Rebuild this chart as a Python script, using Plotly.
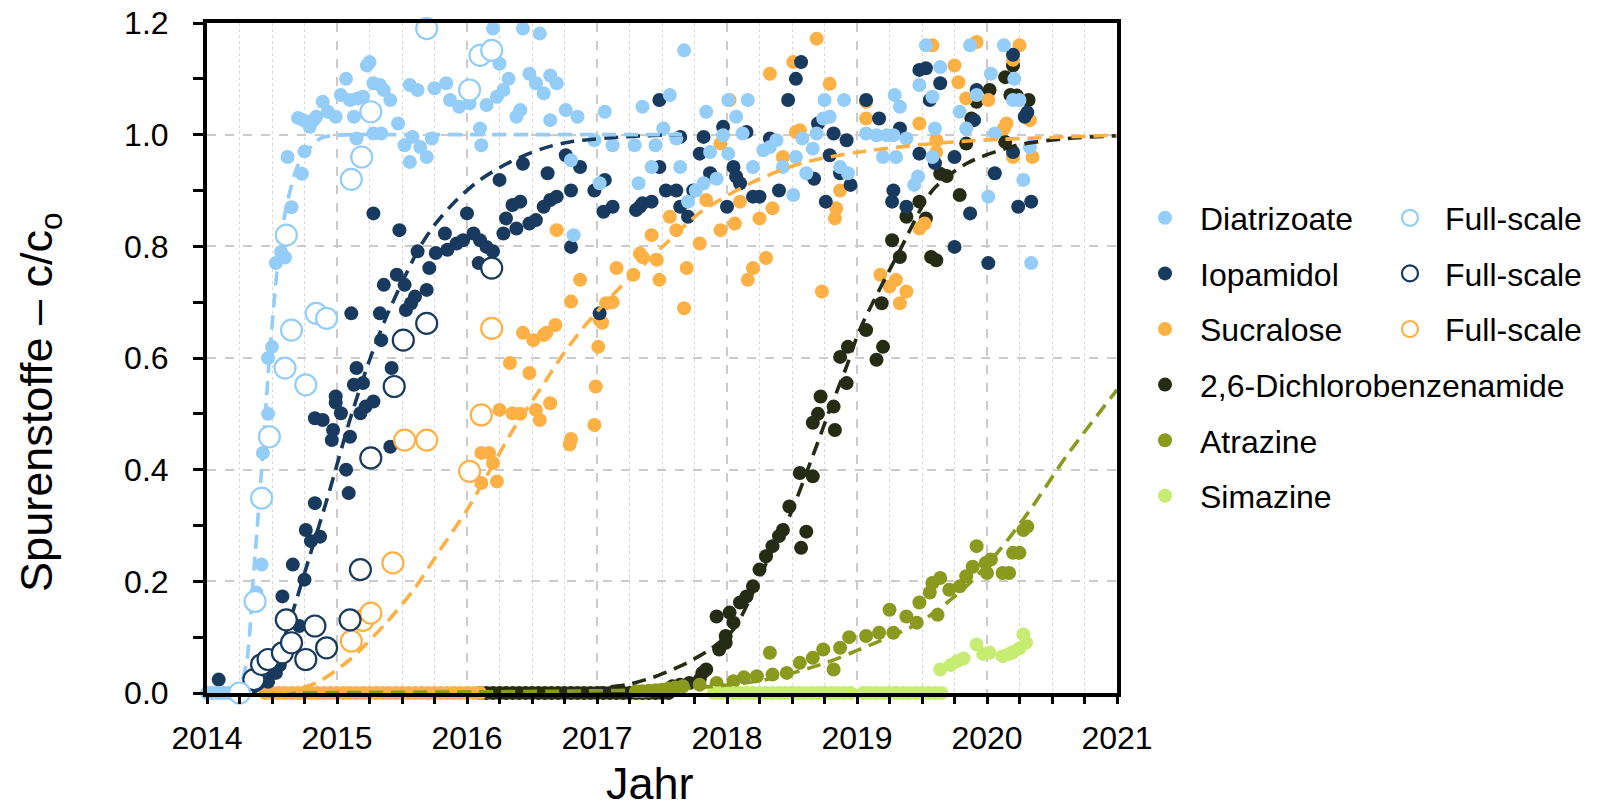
import plotly.graph_objects as go

# ---------------- data ----------------
diat_x = [2014.0, 2014.04, 2014.08, 2014.12, 2014.16, 2014.2, 2014.24, 2014.28,
          2014.38, 2014.42, 2014.43, 2014.47, 2014.47, 2014.50, 2014.53, 2014.57, 2014.60, 2014.65, 2014.62,
          2014.73, 2014.75, 2014.70, 2014.74, 2014.79, 2014.82, 2014.84, 2014.89, 2014.93, 2014.99, 2015.03,
          2015.07, 2015.10, 2015.13, 2015.15, 2015.16, 2015.20, 2015.23, 2015.25, 2015.28, 2015.28, 2015.33,
          2015.34, 2015.36, 2015.41, 2015.47, 2015.52, 2015.56, 2015.56, 2015.58, 2015.62, 2015.64, 2015.69,
          2015.73, 2015.75, 2015.84, 2015.87, 2015.94, 2016.02, 2016.10, 2016.11, 2016.15, 2016.20, 2016.23,
          2016.25, 2016.28, 2016.32, 2016.38, 2016.41, 2016.43, 2016.48, 2016.53, 2016.56, 2016.59, 2016.64,
          2016.64, 2016.69, 2016.76, 2016.80, 2016.82, 2016.85, 2016.98, 2017.02, 2017.06, 2017.12, 2017.29,
          2017.32, 2017.35, 2017.42, 2017.45, 2017.51, 2017.56, 2017.61, 2017.64, 2017.67, 2017.70, 2017.76,
          2017.82, 2017.84, 2017.87, 2017.92, 2017.97, 2018.01, 2018.01, 2018.07, 2018.12, 2018.16, 2018.20,
          2018.28, 2018.33, 2018.38, 2018.43, 2018.51, 2018.53, 2018.58, 2018.61, 2018.66, 2018.69, 2018.74,
          2018.75, 2018.79, 2018.87, 2018.90, 2018.93, 2019.07, 2019.15, 2019.20, 2019.23, 2019.28, 2019.29,
          2019.30, 2019.33, 2019.38, 2019.44, 2019.47, 2019.48, 2019.53, 2019.58, 2019.58, 2019.60, 2019.64,
          2019.79, 2019.84, 2019.87, 2019.92, 2020.01, 2020.03, 2020.06, 2020.13, 2020.20, 2020.21, 2020.25,
          2020.28, 2020.33, 2020.34]
diat_y = [0.0, 0.0, 0.0, 0.0, 0.0, 0.0, 0.0, 0.0,
          0.18, 0.23, 0.43, 0.50, 0.60, 0.62, 0.77, 0.79, 0.78, 0.87, 0.96,
          0.93, 0.97, 1.03, 1.026, 1.014, 1.026, 1.032, 1.059, 1.041, 1.032, 1.071,
          1.10, 1.062, 1.032, 0.993, 1.065, 1.068, 1.124, 1.13, 1.092, 1.002, 1.089,
          1.002, 1.08, 1.062, 1.02, 0.981, 1.089, 0.951, 0.996, 1.08, 0.978, 0.96,
          0.993, 1.083, 1.092, 1.062, 1.05, 1.056, 1.011, 0.981, 1.053, 1.19, 1.068,
          1.127, 1.08, 1.10, 1.032, 1.044, 1.19, 1.109, 1.092, 1.181, 1.074, 1.106,
          1.026, 1.092, 1.044, 0.954, 0.82, 1.032, 0.99, 0.913, 1.041, 0.981, 0.981,
          0.913, 1.05, 0.942, 0.981, 1.011, 1.071, 0.993, 0.942, 1.151, 0.88, 0.90,
          0.913, 1.041, 0.969, 0.921, 0.999, 1.062, 0.966, 1.032, 1.002, 1.062, 0.942,
          0.972, 0.978, 0.99, 0.942, 0.892, 0.96, 0.993, 0.931, 0.975, 1.002, 1.029,
          1.062, 1.032, 0.942, 1.062, 0.931, 1.002, 0.999, 0.96, 0.999, 0.999, 1.071,
          0.96, 1.05, 0.993, 0.91, 0.925, 1.089, 1.16, 1.068, 0.96, 1.011, 1.121,
          1.041, 1.011, 1.16, 1.071, 0.889, 1.109, 1.002, 1.16, 1.062, 1.10, 1.062,
          0.919, 0.978, 0.77]

iopa_x = [2014.09, 2014.47, 2014.50, 2014.53, 2014.56, 2014.58, 2014.66, 2014.71, 2014.75, 2014.76, 2014.80,
          2014.83, 2014.83, 2014.87, 2014.89, 2014.96, 2014.97, 2014.99, 2014.99, 2015.03, 2015.07, 2015.09,
          2015.10, 2015.11, 2015.13, 2015.15, 2015.18, 2015.20, 2015.22, 2015.28, 2015.28, 2015.33, 2015.34,
          2015.36, 2015.41, 2015.42, 2015.46, 2015.48, 2015.52, 2015.53, 2015.57, 2015.60, 2015.62, 2015.69,
          2015.71, 2015.76, 2015.83, 2015.85, 2015.92, 2015.97, 2016.00, 2016.05, 2016.09, 2016.10, 2016.15,
          2016.20, 2016.25, 2016.28, 2016.30, 2016.35, 2016.38, 2016.41, 2016.43, 2016.48, 2016.53, 2016.59,
          2016.62, 2016.64, 2016.69, 2016.76, 2016.80, 2016.80, 2016.87, 2016.98, 2017.02, 2017.05, 2017.06,
          2017.12, 2017.30, 2017.33, 2017.35, 2017.42, 2017.48, 2017.48, 2017.53, 2017.61, 2017.64, 2017.64,
          2017.70, 2017.74, 2017.79, 2017.82, 2017.87, 2017.97, 2018.00, 2018.05, 2018.07, 2018.10, 2018.15,
          2018.20, 2018.25, 2018.33, 2018.40, 2018.47, 2018.53, 2018.57, 2018.67, 2018.70, 2018.76, 2018.79,
          2018.82, 2018.87, 2018.92, 2018.95, 2019.07, 2019.17, 2019.27, 2019.28, 2019.33, 2019.38, 2019.48,
          2019.48, 2019.53, 2019.56, 2019.60, 2019.64, 2019.75, 2019.75, 2019.87, 2019.90, 2019.92, 2020.01,
          2020.06, 2020.20, 2020.20, 2020.24, 2020.29, 2020.31, 2020.34]
iopa_y = [0.024, 0.02, 0.04, 0.036, 0.05, 0.173, 0.23, 0.12, 0.203, 0.292, 0.272,
          0.34, 0.492, 0.28, 0.489, 0.453, 0.471, 0.531, 0.52, 0.501, 0.40, 0.358,
          0.459, 0.68, 0.552, 0.582, 0.501, 0.555, 0.513, 0.522, 0.859, 0.68, 0.632,
          0.731, 0.441, 0.582, 0.749, 0.829, 0.731, 0.686, 0.698, 0.71, 0.791, 0.722,
          0.761, 0.788, 0.823, 0.794, 0.805, 0.811, 0.859, 0.823, 0.77, 0.811, 0.799,
          0.791, 0.919, 0.823, 0.85, 0.874, 0.832, 0.88, 0.948, 0.841, 0.847, 0.871,
          0.931, 0.883, 0.889, 0.963, 0.90, 0.799, 0.942, 0.90, 0.68, 0.862, 0.919,
          0.871, 0.865, 0.871, 0.877, 0.88, 1.062, 0.942, 0.90, 0.90, 0.871, 0.996,
          0.853, 0.90, 0.966, 0.996, 0.931, 1.014, 0.871, 0.942, 0.925, 0.913, 1.005,
          0.889, 0.889, 0.993, 0.90, 1.062, 1.10, 1.13, 0.921, 1.02, 0.88, 0.963,
          1.002, 0.931, 0.99, 0.91, 1.062, 1.029, 0.88, 0.90, 1.011, 0.871, 0.966,
          1.116, 1.119, 1.062, 0.949, 1.092, 0.96, 0.799, 0.859, 1.026, 1.08, 0.77,
          0.931, 1.143, 0.969, 0.871, 1.032, 1.04, 0.88]

sucr_x = [2014.45, 2014.5, 2014.55, 2014.6, 2014.65, 2014.7, 2014.75, 2014.8, 2014.85, 2014.9, 2014.95,
          2015.0, 2015.05, 2015.1, 2015.15, 2015.2, 2015.25, 2015.3, 2015.35, 2015.4, 2015.45, 2015.5,
          2015.55, 2015.6, 2015.65, 2015.7, 2015.75, 2015.8, 2015.85, 2015.9, 2015.95, 2016.0, 2016.05, 2016.1,
          2016.11, 2016.11, 2016.17, 2016.20, 2016.23, 2016.25, 2016.33, 2016.35, 2016.41, 2016.43, 2016.48,
          2016.51, 2016.53, 2016.56, 2016.59, 2016.61, 2016.64, 2016.68, 2016.69, 2016.79, 2016.80, 2016.80,
          2016.87, 2016.98, 2016.99, 2017.01, 2017.02, 2017.04, 2017.07, 2017.12, 2017.15, 2017.28, 2017.33,
          2017.35, 2017.42, 2017.46, 2017.48, 2017.56, 2017.61, 2017.67, 2017.69, 2017.79, 2017.84, 2017.89,
          2017.95, 2017.95, 2018.02, 2018.06, 2018.10, 2018.16, 2018.20, 2018.25, 2018.30, 2018.33, 2018.35,
          2018.43, 2018.51, 2018.53, 2018.56, 2018.69, 2018.73, 2018.79, 2018.83, 2018.84, 2018.87, 2019.07,
          2019.07, 2019.18, 2019.25, 2019.30, 2019.33, 2019.38, 2019.48, 2019.48, 2019.52, 2019.58, 2019.61,
          2019.61, 2019.75, 2019.78, 2019.84, 2019.92, 2020.01, 2020.13, 2020.15, 2020.20, 2020.20, 2020.25,
          2020.33, 2020.35]
sucr_y = [0.0, 0.0, 0.0, 0.0, 0.0, 0.0, 0.0, 0.0, 0.0, 0.0, 0.0,
          0.0, 0.0, 0.0, 0.0, 0.0, 0.0, 0.0, 0.0, 0.0, 0.0, 0.0,
          0.0, 0.0, 0.0, 0.0, 0.0, 0.0, 0.0, 0.0, 0.0, 0.0, 0.0, 0.0,
          0.376, 0.43, 0.43, 0.412, 0.379, 0.507, 0.591, 0.501, 0.50, 0.645, 0.573,
          0.632, 0.507, 0.489, 0.641, 0.645, 0.519, 0.659, 0.829, 0.445, 0.455, 0.701,
          0.74, 0.48, 0.549, 0.62, 0.668, 0.663, 0.698, 0.70, 0.761, 0.749, 0.787,
          0.781, 0.82, 0.776, 0.74, 0.853, 0.829, 0.689, 0.761, 0.805, 0.883, 0.925,
          0.984, 0.829, 1.062, 0.841, 0.88, 0.74, 0.761, 0.85, 0.779, 1.109, 0.868,
          0.96, 1.13, 1.005, 1.008, 1.172, 0.719, 1.091, 0.85, 0.868, 0.90, 1.059,
          1.029, 0.749, 0.728, 0.74, 0.698, 0.719, 0.832, 1.02, 0.841, 1.16, 0.99,
          0.969, 1.124, 1.094, 1.065, 1.166, 1.062, 1.011, 1.02, 1.134, 0.96, 1.16,
          1.026, 0.96]

dcb_x = [2016.1, 2016.15, 2016.2, 2016.25, 2016.3, 2016.35, 2016.4, 2016.45, 2016.5, 2016.55, 2016.6,
         2016.65, 2016.7, 2016.75, 2016.8, 2016.85, 2016.9, 2016.95, 2017.0, 2017.05, 2017.1, 2017.15,
         2017.2, 2017.25, 2017.3, 2017.35, 2017.4, 2017.45, 2017.5, 2017.55,
         2017.58, 2017.64, 2017.71, 2017.79, 2017.81, 2017.84, 2017.94, 2017.99, 2017.99, 2017.92, 2018.02,
         2018.05, 2018.10, 2018.15, 2018.20, 2018.25, 2018.30, 2018.35, 2018.40, 2018.43, 2018.48, 2018.56,
         2018.57, 2018.61, 2018.66, 2018.66, 2018.70, 2018.72, 2018.82, 2018.83, 2018.87, 2018.92, 2018.93,
         2019.07, 2019.15, 2019.20, 2019.19, 2019.27, 2019.33, 2019.38, 2019.48, 2019.53, 2019.57, 2019.61,
         2019.64, 2019.69, 2019.79, 2019.84, 2019.88, 2019.92, 2020.02, 2020.14, 2020.14, 2020.18, 2020.20,
         2020.23, 2020.32]
dcb_y = [0.0, 0.0, 0.0, 0.0, 0.0, 0.0, 0.0, 0.0, 0.0, 0.0, 0.0,
         0.0, 0.0, 0.0, 0.0, 0.0, 0.0, 0.0, 0.0, 0.0, 0.0, 0.0,
         0.0, 0.0, 0.0, 0.0, 0.0, 0.0, 0.0, 0.0,
         0.012, 0.015, 0.018, 0.024, 0.036, 0.042, 0.078, 0.09, 0.102, 0.137, 0.144,
         0.126, 0.162, 0.173, 0.191, 0.221, 0.245, 0.263, 0.281, 0.292, 0.334, 0.394,
         0.26, 0.289, 0.388, 0.484, 0.50, 0.531, 0.513, 0.471, 0.602, 0.555, 0.62,
         0.65, 0.597, 0.62, 0.698, 0.811, 0.781, 0.853, 0.88, 0.85, 0.781, 0.775,
         0.93, 0.926, 0.892, 0.984, 1.029, 1.059, 1.08, 1.103, 0.987, 1.071, 1.124,
         1.07, 1.062]

atra_x = [2017.30, 2017.35, 2017.40, 2017.45, 2017.50, 2017.55, 2017.60,
          2017.66, 2017.79, 2017.92, 2018.05, 2018.13, 2018.23, 2018.33, 2018.35, 2018.46, 2018.56,
          2018.66, 2018.74, 2018.82, 2018.87, 2018.94, 2019.07, 2019.17, 2019.25, 2019.28, 2019.38,
          2019.46, 2019.48, 2019.56, 2019.58, 2019.62, 2019.64, 2019.71, 2019.79, 2019.84, 2019.89,
          2019.92, 2019.99, 2020.00, 2020.03, 2020.12, 2020.17, 2020.20, 2020.25, 2020.28, 2020.31]
atra_y = [0.003, 0.003, 0.004, 0.005, 0.006, 0.008, 0.01,
          0.012, 0.015, 0.018, 0.021, 0.028, 0.03, 0.072, 0.033, 0.036, 0.054,
          0.063, 0.078, 0.042, 0.081, 0.10, 0.102, 0.108, 0.149, 0.108, 0.137,
          0.126, 0.162, 0.18, 0.197, 0.14, 0.206, 0.185, 0.191, 0.209, 0.226,
          0.263, 0.233, 0.215, 0.239, 0.215, 0.215, 0.251, 0.251, 0.292, 0.298]

sima_x = [2017.90, 2017.95, 2018.0, 2018.05, 2018.1, 2018.15, 2018.2, 2018.25, 2018.3, 2018.35, 2018.4,
          2018.45, 2018.5, 2018.55, 2018.6, 2018.65, 2018.7, 2018.75, 2018.8, 2018.85, 2018.9, 2018.95,
          2019.05, 2019.1, 2019.15, 2019.2, 2019.25, 2019.3, 2019.35, 2019.4, 2019.45, 2019.5, 2019.55,
          2019.6, 2019.65,
          2019.64, 2019.72, 2019.77, 2019.82, 2019.92, 2019.97, 2020.02, 2020.12, 2020.17, 2020.20,
          2020.25, 2020.28, 2020.30]
sima_y = [0.0, 0.0, 0.0, 0.0, 0.0, 0.0, 0.0, 0.0, 0.0, 0.0, 0.0,
          0.0, 0.0, 0.0, 0.0, 0.0, 0.0, 0.0, 0.0, 0.0, 0.0, 0.0,
          0.0, 0.0, 0.0, 0.0, 0.0, 0.0, 0.0, 0.0, 0.0, 0.0, 0.0,
          0.0, 0.0,
          0.042, 0.05, 0.057, 0.062, 0.087, 0.07, 0.072, 0.066, 0.07, 0.073,
          0.08, 0.105, 0.09]

# full-scale observations (open circles)
diat_fs_x = [2014.25, 2014.37, 2014.42, 2014.48, 2014.60, 2014.65, 2014.61, 2014.76, 2014.84, 2014.92,
             2015.11, 2015.19, 2015.26, 2015.69, 2016.02, 2016.10, 2016.19]
diat_fs_y = [0.0, 0.164, 0.349, 0.459, 0.582, 0.65, 0.82, 0.552, 0.68, 0.671,
             0.92, 0.96, 1.041, 1.19, 1.08, 1.142, 1.151]
iopa_fs_x = [2014.36, 2014.42, 2014.47, 2014.58, 2014.61, 2014.65, 2014.76, 2014.83, 2014.92, 2015.10,
             2015.18, 2015.26, 2015.44, 2015.51, 2015.69, 2016.19]
iopa_fs_y = [0.024, 0.051, 0.06, 0.072, 0.131, 0.09, 0.06, 0.12, 0.081, 0.131,
             0.221, 0.421, 0.549, 0.632, 0.662, 0.761]
sucr_fs_x = [2015.11, 2015.20, 2015.26, 2015.43, 2015.52, 2015.69, 2016.02, 2016.11, 2016.19]
sucr_fs_y = [0.093, 0.13, 0.143, 0.233, 0.453, 0.453, 0.397, 0.498, 0.653]

# fitted curves (dashed)
diat_fit_x = [2014.0, 2014.22, 2014.30, 2014.354, 2014.42, 2014.48, 2014.55, 2014.61, 2014.71, 2014.87,
              2015.0, 2015.5, 2016.0, 2016.5, 2017.0, 2017.66]
diat_fit_y = [0.0, 0.0, 0.05, 0.20, 0.40, 0.60, 0.78, 0.87, 0.95, 0.993,
              0.999, 1.0, 1.0, 1.0, 1.0, 1.0]
iopa_fit_x = [2014.35, 2014.46, 2014.55, 2014.64, 2014.79, 2014.94, 2015.10, 2015.25, 2015.38, 2015.51,
              2015.64, 2015.76, 2015.92, 2016.10, 2016.33, 2016.58, 2016.79, 2017.27, 2017.66]
iopa_fit_y = [0.0, 0.018, 0.07, 0.131, 0.245, 0.36, 0.49, 0.596, 0.674, 0.74,
              0.80, 0.841, 0.883, 0.919, 0.951, 0.975, 0.987, 0.997, 1.0]
sucr_fit_x = [2014.4, 2014.6, 2014.84, 2015.10, 2015.38, 2015.59, 2015.79, 2016.0, 2016.15, 2016.354,
              2016.56, 2016.74, 2016.89, 2017.02, 2017.15, 2017.28, 2017.53, 2017.79, 2018.18, 2018.56,
              2019.02, 2019.74, 2021.0]
sucr_fit_y = [0.0, 0.003, 0.018, 0.06, 0.126, 0.185, 0.255, 0.328, 0.388, 0.471,
              0.543, 0.607, 0.653, 0.688, 0.72, 0.75, 0.805, 0.86, 0.913, 0.948,
              0.969, 0.987, 0.999]
dcb_fit_x = [2014.4, 2016.5, 2016.9, 2017.0, 2017.23, 2017.43, 2017.64, 2017.74, 2017.87, 2018.05,
             2018.20, 2018.35, 2018.48, 2018.64, 2018.79, 2018.92, 2019.02, 2019.33, 2019.58, 2019.84,
             2020.23, 2020.61, 2021.0]
dcb_fit_y = [0.0, 0.0, 0.004, 0.008, 0.015, 0.028, 0.048, 0.06, 0.078, 0.114,
             0.18, 0.257, 0.316, 0.412, 0.507, 0.585, 0.65, 0.793, 0.9, 0.948,
             0.981, 0.993, 0.998]
atra_fit_x = [2014.4, 2017.0, 2017.69, 2018.30, 2018.76, 2019.02, 2019.48, 2019.84, 2020.10, 2020.35,
              2020.61, 2021.0]
atra_fit_y = [0.0, 0.004, 0.008, 0.024, 0.054, 0.078, 0.126, 0.191, 0.257, 0.334,
              0.424, 0.543]

names = ["Diatrizoate", "Iopamidol", "Sucralose", "2,6-Dichlorobenzenamide", "Atrazine", "Simazine"]
fs_label = "Full-scale"

# ---------------- styles ----------------
C_DIAT = "#93CDF8"
C_IOPA = "#173A5E"
C_SUCR = "#FDB043"
C_DCB = "#262B13"
C_ATRA = "#8A9A1F"
C_SIMA = "#C6EC72"
FONT = "Arial, Liberation Sans, sans-serif"

fig = go.Figure()

def dots(x, y, name, color, rank):
    fig.add_trace(go.Scatter(
        x=x, y=y, mode="markers", name=name,
        marker=dict(size=14, color=color, line=dict(width=0)),
        cliponaxis=False, legendgroup=name, legendrank=rank, legend="legend"))

def circles(x, y, color, rank):
    fig.add_trace(go.Scatter(
        x=x, y=y, mode="markers", name=fs_label,
        marker=dict(size=21, color="white", line=dict(width=2.2, color=color)),
        cliponaxis=False, legendgroup="fs" + str(rank), legendrank=rank, legend="legend2"))

def fit(x, y, color):
    fig.add_trace(go.Scatter(
        x=x, y=y, mode="lines", showlegend=False, hoverinfo="skip",
        line=dict(color=color, width=3.6, dash="14px,8px", shape="spline", smoothing=0.8)))

# drawing order (bottom to top)
dots(dcb_x, dcb_y, names[3], C_DCB, 4)
dots(atra_x, atra_y, names[4], C_ATRA, 5)
dots(sima_x, sima_y, names[5], C_SIMA, 6)
dots(sucr_x, sucr_y, names[2], C_SUCR, 3)
dots(iopa_x, iopa_y, names[1], C_IOPA, 2)
dots(diat_x, diat_y, names[0], C_DIAT, 1)

fit(dcb_fit_x, dcb_fit_y, C_DCB)
fit(atra_fit_x, atra_fit_y, C_ATRA)
fit(sucr_fit_x, sucr_fit_y, C_SUCR)
fit(iopa_fit_x, iopa_fit_y, C_IOPA)
fit(diat_fit_x, diat_fit_y, C_DIAT)

circles(sucr_fs_x, sucr_fs_y, C_SUCR, 3)
circles(iopa_fs_x, iopa_fs_y, C_IOPA, 2)
circles(diat_fs_x, diat_fs_y, C_DIAT, 1)

GRID = "#CBCBCB"

# the page adds an 8 px body margin, so the figure is 8 px smaller and offset
fig.update_layout(
    width=1590, height=802,
    margin=dict(l=199, r=481, t=15, b=117, autoexpand=False),
    paper_bgcolor="white", plot_bgcolor="white",
    font=dict(family=FONT, color="black"),
    legend=dict(x=1.0143, y=0.75, xanchor="left", yanchor="top",
                font=dict(size=32, family=FONT, color="black"),
                itemwidth=60, tracegroupgap=11, traceorder="grouped",
                bgcolor="rgba(0,0,0,0)"),
    legend2=dict(x=1.2835, y=0.75, xanchor="left", yanchor="top",
                 font=dict(size=32, family=FONT, color="black"),
                 itemwidth=60, tracegroupgap=11, traceorder="grouped",
                 bgcolor="rgba(0,0,0,0)"),
    xaxis=dict(range=[2014, 2021], dtick=1, tick0=2014, tickformat="d",
               showline=True, linecolor="black", linewidth=4, mirror=True,
               ticks="outside", ticklen=7, tickwidth=3, tickcolor="black",
               tickfont=dict(size=32, family=FONT, color="black"), ticklabelstandoff=7,
               ticklabeloverflow="allow",
               showgrid=True, gridcolor=GRID, gridwidth=2, griddash="dash", zeroline=False,
               minor=dict(dtick=0.25, showgrid=True, gridcolor="#DADADA", gridwidth=1,
                          griddash="dot", ticks="outside", ticklen=7, tickwidth=3,
                          tickcolor="black")),
    yaxis=dict(range=[0, 1.2], dtick=0.2, tick0=0, tickformat=".1f",
               showline=True, linecolor="black", linewidth=4, mirror=True,
               ticks="outside", ticklen=10, tickwidth=3, tickcolor="black",
               tickfont=dict(size=32, family=FONT, color="black"), ticklabelstandoff=18,
               ticklabeloverflow="allow",
               showgrid=True, gridcolor=GRID, gridwidth=2, griddash="dash", zeroline=False,
               minor=dict(dtick=0.1, showgrid=False, ticks="outside", ticklen=10, tickwidth=3,
                          tickcolor="black")),
    annotations=[
        dict(text="Jahr", xref="paper", yref="paper", x=0.4868, y=-0.094,
             xanchor="center", yanchor="top", showarrow=False,
             font=dict(size=45, family=FONT, color="black")),
        dict(text="Spurenstoffe – c/c<sub>o</sub>", xref="paper", yref="paper",
             x=-0.1835, y=0.433, xanchor="center", yanchor="middle", textangle=-90,
             showarrow=False, font=dict(size=45, family=FONT, color="black")),
    ],
)

fig.write_html("out.html")
